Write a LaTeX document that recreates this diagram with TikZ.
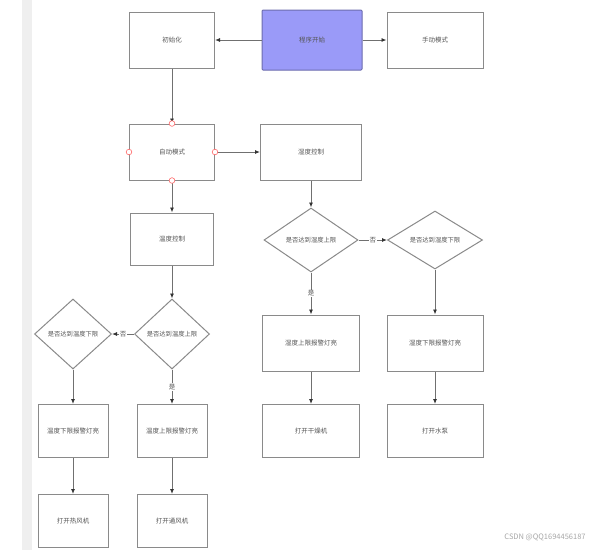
\documentclass[tikz,border=0pt]{standalone}
\usepackage{fontspec}
\newfontfamily\cjk{Noto Sans CJK SC}
\usetikzlibrary{shapes.geometric,arrows.meta}

\definecolor{edgegray}{HTML}{8A8A8A}
\definecolor{linegray}{HTML}{707070}
\definecolor{textgray}{HTML}{555555}
\definecolor{startblue}{HTML}{9A9AF8}
\definecolor{stripgray}{HTML}{EFEFEF}

\tikzset{
  box/.style={draw=edgegray, line width=1pt, fill=white, rectangle, minimum width=85pt, minimum height=56pt, font=\cjk\fontsize{6.5}{7}\selectfont, text=textgray},
  decision/.style={draw=edgegray, line width=1pt, fill=white, diamond, aspect=1.4, inner sep=0pt, font=\cjk\fontsize{6.3}{7}\selectfont, text=textgray},
  flow/.style={draw=linegray, line width=0.9pt, -{Latex[length=5pt,width=4pt,color=black!80]}},
  yesno/.style={fill=white, inner sep=1pt, font=\cjk\fontsize{6.5}{7}\selectfont, text=textgray},
  port/.style={draw=red!60, fill=white, line width=0.6pt}
}

\begin{document}
\begin{tikzpicture}[x=1pt, y=-1pt, node distance=100pt]
    \useasboundingbox (0,0) rectangle (605,550);
    \fill[stripgray] (22,0) rectangle (32,550);

    % Nodes
    \node[box, fill=startblue, draw=startblue!70!black, minimum width=100pt, minimum height=60pt, rounded corners=1pt] (start) at (312,40) {程序开始};
    \node[box, left of=start, node distance=140pt] (init) {初始化};
    \node[box, right of=start, node distance=123pt, minimum width=96pt] (manual) {手动模式};
    \node[box, below of=init, node distance=112pt] (auto) {自动模式};
    \node[box, right of=auto, node distance=139pt, minimum width=101pt] (humid) {湿度控制};
    \node[box, below of=auto, node distance=87pt, minimum width=83pt, minimum height=52pt] (temp) {温度控制};

    % temperature branch
    \node[decision, below of=temp, node distance=95pt, minimum width=75pt, minimum height=70pt] (tup) {是否达到温度上限};
    \node[decision, left of=tup, node distance=99pt, minimum width=77pt, minimum height=70pt] (tdown) {是否达到温度下限};
    \node[box, below of=tup, node distance=97pt, minimum width=70pt, minimum height=53pt] (tuplamp) {温度上限报警灯亮};
    \node[box, below of=tdown, node distance=97pt, minimum width=70pt, minimum height=53pt] (tdownlamp) {温度下限报警灯亮};
    \node[box, below of=tuplamp, node distance=90pt, minimum width=70pt, minimum height=53pt] (fan) {打开通风机};
    \node[box, below of=tdownlamp, node distance=90pt, minimum width=70pt, minimum height=53pt] (heater) {打开热风机};

    % humidity branch
    \node[decision, below of=humid, node distance=88pt, minimum width=94pt, minimum height=64pt] (hup) {是否达到湿度上限};
    \node[decision, right of=hup, node distance=124pt, minimum width=95pt, minimum height=58pt] (hdown) {是否达到湿度下限};
    \node[box, below of=hup, node distance=103pt, minimum width=97pt] (huplamp) {湿度上限报警灯亮};
    \node[box, below of=hdown, node distance=103pt, minimum width=96pt] (hdownlamp) {湿度下限报警灯亮};
    \node[box, below of=huplamp, node distance=88pt, minimum width=97pt, minimum height=53pt] (dryer) {打开干燥机};
    \node[box, below of=hdownlamp, node distance=88pt, minimum width=96pt, minimum height=53pt] (pump) {打开水泵};

    \node[font=\cjk\fontsize{7.5}{8}\selectfont, text=gray!70] (mark) at (545,537) {CSDN @QQ1694456187};

    % Edges
    \draw[flow] (start) -- (init);
    \draw[flow] (start) -- (manual);
    \draw[flow] (init) -- (auto);
    \draw[flow] (auto) -- (humid);
    \draw[flow] (auto) -- (temp);
    \draw[flow] (temp) -- (tup);
    \draw[flow] (tup) -- node[yesno] {否} (tdown);
    \draw[flow] (tup) -- node[yesno] {是} (tuplamp);
    \draw[flow] (tdown) -- (tdownlamp);
    \draw[flow] (tuplamp) -- (fan);
    \draw[flow] (tdownlamp) -- (heater);
    \draw[flow] (humid) -- (hup);
    \draw[flow] (hup) -- node[yesno] {否} (hdown);
    \draw[flow] (hup) -- node[yesno] {是} (huplamp);
    \draw[flow] (hdown) -- (hdownlamp);
    \draw[flow] (huplamp) -- (dryer);
    \draw[flow] (hdownlamp) -- (pump);

    % connection points on auto
    \foreach \a in {north, south, east, west}
        \draw[port] (auto.\a) circle (2.8pt);
\end{tikzpicture}
\end{document}
